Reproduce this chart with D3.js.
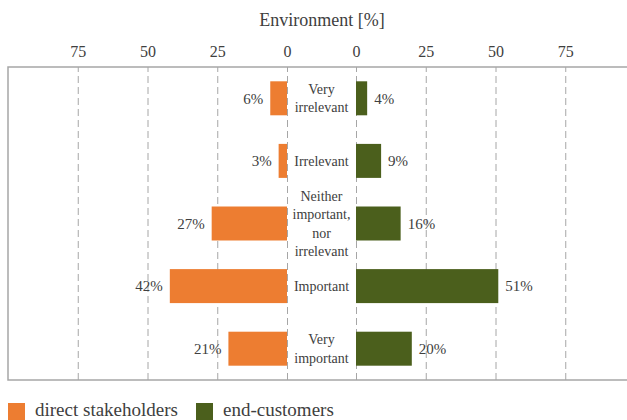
<!DOCTYPE html>
<html>
<head>
<meta charset="utf-8">
<script src="https://cdn.jsdelivr.net/npm/d3@7"></script>
<style>
  html, body { margin: 0; padding: 0; background: #fff; }
  svg { display: block; }
  text { font-family: "Liberation Serif", "Times New Roman", serif; fill: #404040; }
</style>
</head>
<body>
<svg id="chart" width="627" height="420"></svg>
<script>
// Survey answers on the importance of the environment
const categories = [
  ["Very", "irrelevant"],
  ["Irrelevant"],
  ["Neither", "important,", "nor", "irrelevant"],
  ["Important"],
  ["Very", "important"]
];
const directStakeholders = [6, 3, 27, 42, 21];
const endCustomers = [4, 9, 16, 51, 20];
const tickValues = [0, 25, 50, 75];
const seriesNames = ["direct stakeholders", "end-customers"];
const seriesColors = ["#ED7D31", "#4B5F1C"];

const svg = d3.select("#chart");
const frame = { left: 8, right: 627, top: 67, bottom: 380 };
const leftZero = 287, rightZero = 356;

// Mirrored value scales: left half grows leftward, right half rightward
const xL = d3.scaleLinear().domain([0, 100]).range([leftZero, leftZero - 279]);
const xR = d3.scaleLinear().domain([0, 100]).range([rightZero, rightZero + 279]);
const y = d3.scaleBand()
  .domain(d3.range(categories.length))
  .range([frame.top, frame.bottom])
  .paddingInner(0.457)
  .paddingOuter(0.2285);

// Dashed vertical gridlines
function grid(scale) {
  svg.append("g")
    .attr("transform", `translate(0,${frame.bottom})`)
    .call(d3.axisBottom(scale).tickValues(tickValues)
      .tickSize(-(frame.bottom - frame.top)).tickFormat(""))
    .call(g => g.select(".domain").remove())
    .call(g => g.selectAll(".tick line")
      .attr("stroke", "#a6a6a6").attr("stroke-width", 1)
      .attr("stroke-dasharray", "7,4"));
}
grid(xL);
grid(xR);

// Frame: left, top, bottom edges
svg.append("path")
  .attr("d", `M${frame.right},${frame.top}H${frame.left}V${frame.bottom}H${frame.right}`)
  .attr("fill", "none").attr("stroke", "#a6a6a6").attr("stroke-width", 1.5);

// Tick labels along the top
function topAxis(scale) {
  svg.append("g")
    .attr("transform", `translate(0,${frame.top - 10})`)
    .call(d3.axisTop(scale).tickValues(tickValues).tickSize(0).tickPadding(0))
    .call(g => g.select(".domain").remove())
    .call(g => g.selectAll(".tick text")
      .attr("font-family", "Liberation Serif, serif")
      .attr("font-size", 16).attr("fill", "#404040"));
}
topAxis(xL);
topAxis(xR);

// Title
svg.append("text")
  .attr("x", 322).attr("y", 26)
  .attr("text-anchor", "middle")
  .attr("font-size", 18)
  .text("Environment [%]");

// Left bars (direct stakeholders)
svg.append("g").selectAll("rect")
  .data(directStakeholders)
  .join("rect")
  .attr("x", d => xL(d))
  .attr("y", (d, i) => y(i))
  .attr("width", d => xL(0) - xL(d))
  .attr("height", y.bandwidth())
  .attr("fill", seriesColors[0]);

svg.append("g").selectAll("text")
  .data(directStakeholders)
  .join("text")
  .attr("x", d => xL(d) - 7)
  .attr("y", (d, i) => y(i) + y.bandwidth() / 2)
  .attr("dy", "0.35em")
  .attr("text-anchor", "end")
  .attr("font-size", 15)
  .text(d => d + "%");

// Right bars (end-customers)
svg.append("g").selectAll("rect")
  .data(endCustomers)
  .join("rect")
  .attr("x", xR(0))
  .attr("y", (d, i) => y(i))
  .attr("width", d => xR(d) - xR(0))
  .attr("height", y.bandwidth())
  .attr("fill", seriesColors[1]);

svg.append("g").selectAll("text")
  .data(endCustomers)
  .join("text")
  .attr("x", d => xR(d) + 7)
  .attr("y", (d, i) => y(i) + y.bandwidth() / 2)
  .attr("dy", "0.35em")
  .attr("text-anchor", "start")
  .attr("font-size", 15)
  .text(d => d + "%");

// Category labels in the gap between the halves
const lineH = 18.3;
svg.append("g").selectAll("text")
  .data(categories)
  .join("text")
  .attr("text-anchor", "middle")
  .attr("font-size", 14)
  .each(function(lines, i) {
    const cy = y(i) + y.bandwidth() / 2;
    const start = cy - (lines.length - 1) * lineH / 2;
    d3.select(this).selectAll("tspan")
      .data(lines)
      .join("tspan")
      .attr("x", (leftZero + rightZero) / 2)
      .attr("y", (d, k) => start + k * lineH)
      .attr("dy", "0.35em")
      .text(d => d);
  });

// Legend
const legendX = [8, 196];
const legend = svg.append("g").selectAll("g")
  .data(seriesNames)
  .join("g")
  .attr("transform", (d, i) => `translate(${legendX[i]},403)`);
legend.append("rect")
  .attr("width", 17).attr("height", 17)
  .attr("fill", (d, i) => seriesColors[i]);
legend.append("text")
  .attr("x", 27).attr("y", 13)
  .attr("font-size", 19)
  .text(d => d);
</script>
</body>
</html>
